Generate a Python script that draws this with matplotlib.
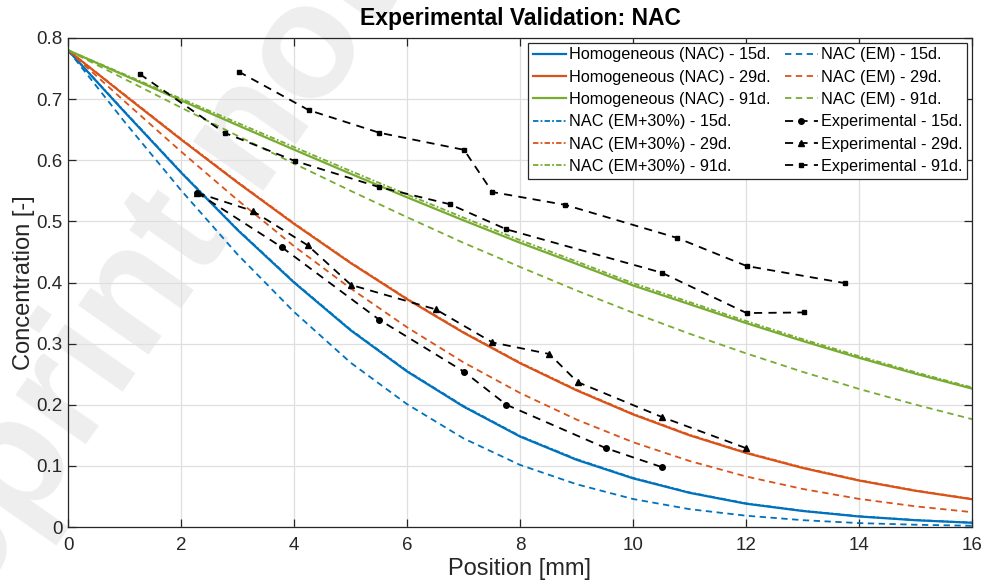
import matplotlib
matplotlib.use("Agg")
import matplotlib.pyplot as plt

plt.rcParams['font.family'] = ['Liberation Sans', 'DejaVu Sans']

# ---------------- data ----------------
pos = [0, 1, 2, 3, 4, 5, 6, 7, 8, 9, 10, 11, 12, 13, 14, 15, 16]

hom_15 = [0.78, 0.679, 0.580, 0.486, 0.400, 0.322, 0.2545, 0.197, 0.148, 0.110,
          0.0796, 0.0559, 0.0381, 0.0262, 0.0172, 0.0111, 0.0069]
hom_29 = [0.78, 0.7065, 0.634, 0.5636, 0.496, 0.432, 0.3727, 0.3179, 0.268, 0.2236,
          0.1842, 0.150, 0.1211, 0.0966, 0.076, 0.0592, 0.0454]
hom_91 = [0.78, 0.7389, 0.698, 0.6574, 0.6174, 0.578, 0.5394, 0.5017, 0.4651, 0.4305,
          0.3952, 0.3645, 0.3337, 0.3044, 0.2768, 0.2508, 0.2264]

em_15 = [0.78, 0.663, 0.551, 0.446, 0.352, 0.269, 0.201, 0.145, 0.1016, 0.070,
         0.0458, 0.0292, 0.0185, 0.0112, 0.0064, 0.0037, 0.0020]
em_29 = [0.78, 0.6965, 0.6143, 0.535, 0.4595, 0.3905, 0.3268, 0.2694, 0.2193, 0.1758,
         0.1388, 0.108, 0.0827, 0.0623, 0.046, 0.0338, 0.0243]
em_91 = [0.78, 0.733, 0.6862, 0.640, 0.5946, 0.5501, 0.5069, 0.4648, 0.4255, 0.387,
         0.3506, 0.3162, 0.2841, 0.2539, 0.2259, 0.2002, 0.1764]

em30_15 = [0.78, 0.680, 0.581, 0.487, 0.401, 0.323, 0.2555, 0.198, 0.149, 0.111,
           0.0804, 0.0566, 0.0387, 0.0267, 0.0176, 0.0114, 0.0071]
em30_29 = [0.78, 0.7075, 0.635, 0.5646, 0.497, 0.433, 0.3737, 0.3189, 0.269, 0.2246,
           0.1852, 0.151, 0.1220, 0.0974, 0.0767, 0.0598, 0.0459]
em30_91 = [0.78, 0.7405, 0.7008, 0.6612, 0.6217, 0.5825, 0.5440, 0.5062, 0.4694, 0.4345,
           0.3990, 0.3680, 0.3370, 0.3073, 0.2795, 0.2531, 0.2283]

exp15_x = [2.28, 3.78, 5.51, 7.01, 7.76, 9.52, 10.51]
exp15_y = [0.547, 0.458, 0.339, 0.254, 0.200, 0.129, 0.098]

exp29_x = [2.28, 3.27, 4.24, 5.01, 6.51, 7.51, 8.52, 9.02, 10.51, 12.0]
exp29_y = [0.547, 0.517, 0.461, 0.396, 0.356, 0.302, 0.283, 0.237, 0.180, 0.129]

exp91a_x = [3.02, 4.26, 5.51, 7.01, 7.51, 8.80, 10.78, 12.01, 13.75]
exp91a_y = [0.745, 0.682, 0.645, 0.617, 0.548, 0.527, 0.473, 0.427, 0.399]

exp91b_x = [1.27, 2.77, 4.01, 5.51, 6.76, 7.76, 10.51, 12.01, 13.02]
exp91b_y = [0.741, 0.645, 0.599, 0.556, 0.528, 0.487, 0.416, 0.350, 0.351]

x_ticks = [0, 2, 4, 6, 8, 10, 12, 14, 16]
y_ticks = [0, 0.1, 0.2, 0.3, 0.4, 0.5, 0.6, 0.7, 0.8]
y_tick_labels = ['0', '0.1', '0.2', '0.3', '0.4', '0.5', '0.6', '0.7', '0.8']

# ---------------- styling ----------------
C_BLUE = '#0072BD'
C_ORANGE = '#D95319'
C_GREEN = '#77AC30'
C_AX = '#262626'

fig = plt.figure(figsize=(9.88, 5.87), dpi=100)
fig.patch.set_facecolor('white')
ax = fig.add_axes([68/988, 1-527/587, (972-68)/988, (527-38)/587])
ax.patch.set_alpha(0)

# watermark of the source page
fig.text(-0.13, -0.28, 'Preprint not peer reviewed', rotation=55, fontsize=118,
         color='#eeeeee', ha='left', va='baseline', zorder=-5,
         rotation_mode='anchor', fontweight='bold')

lw_s = 1.6
lw_d = 1.3
dash_m = (0, (3.5, 2.5))
dashdot_m = (0, (3, 1.2, 1, 1.2))

h15, = ax.plot(pos, hom_15, color=C_BLUE, lw=lw_s, label='Homogeneous (NAC) - 15d.')
h29, = ax.plot(pos, hom_29, color=C_ORANGE, lw=lw_s, label='Homogeneous (NAC) - 29d.')
h91, = ax.plot(pos, hom_91, color=C_GREEN, lw=lw_s, label='Homogeneous (NAC) - 91d.')
e30_15, = ax.plot(pos, em30_15, color=C_BLUE, lw=lw_d, ls=dashdot_m, label='NAC (EM+30%) - 15d.')
e30_29, = ax.plot(pos, em30_29, color=C_ORANGE, lw=lw_d, ls=dashdot_m, label='NAC (EM+30%) - 29d.')
e30_91, = ax.plot(pos, em30_91, color=C_GREEN, lw=lw_d, ls=dashdot_m, label='NAC (EM+30%) - 91d.')
e15, = ax.plot(pos, em_15, color=C_BLUE, lw=lw_d, ls=dash_m, label='NAC (EM) - 15d.')
e29, = ax.plot(pos, em_29, color=C_ORANGE, lw=lw_d, ls=dash_m, label='NAC (EM) - 29d.')
e91, = ax.plot(pos, em_91, color=C_GREEN, lw=lw_d, ls=dash_m, label='NAC (EM) - 91d.')

exp_ls = (0, (4.5, 3.5))
x15, = ax.plot(exp15_x, exp15_y, color='black', lw=1.3, ls=exp_ls, marker='o', ms=4,
               label='Experimental - 15d.')
x29, = ax.plot(exp29_x, exp29_y, color='black', lw=1.3, ls=exp_ls, marker='^', ms=5,
               label='Experimental - 29d.')
x91, = ax.plot(exp91a_x, exp91a_y, color='black', lw=1.3, ls=exp_ls, marker='s', ms=3.5,
               label='Experimental - 91d.')
ax.plot(exp91b_x, exp91b_y, color='black', lw=1.3, ls=exp_ls, marker='s', ms=3.5)

ax.set_xlim(0, 16)
ax.set_ylim(0, 0.8)
ax.set_xticks(x_ticks)
ax.set_xticklabels([str(v) for v in x_ticks])
ax.set_yticks(y_ticks)
ax.set_yticklabels(y_tick_labels)
ax.grid(True, color='#dfdfdf', lw=0.9)
ax.set_axisbelow(True)
ax.tick_params(direction='in', top=True, right=True, length=6, width=0.9,
               labelsize=13.5, colors=C_AX)
ax.tick_params(axis='x', pad=7)
ax.tick_params(axis='y', pad=4)
for s in ax.spines.values():
    s.set_color(C_AX)
    s.set_linewidth(0.9)

ax.set_xlabel('Position [mm]', fontsize=17, color=C_AX, labelpad=3)
ax.set_ylabel('Concentration [-]', fontsize=17, color=C_AX, labelpad=1)
ax.set_title('Experimental Validation: NAC', fontsize=16.5, fontweight='bold', pad=9,
             color='black')

handles = [h15, h29, h91, e30_15, e30_29, e30_91, e15, e29, e91, x15, x29, x91]
leg = ax.legend(handles=handles, ncol=2, loc='upper right', fontsize=11.7,
                frameon=True, fancybox=False, framealpha=1, edgecolor=C_AX,
                handlelength=2.0, handletextpad=0.2, columnspacing=0.9,
                labelspacing=0.45, borderpad=0.3, borderaxespad=0.28)
leg.get_frame().set_linewidth(0.9)

fig.savefig('out.png', dpi=100)
